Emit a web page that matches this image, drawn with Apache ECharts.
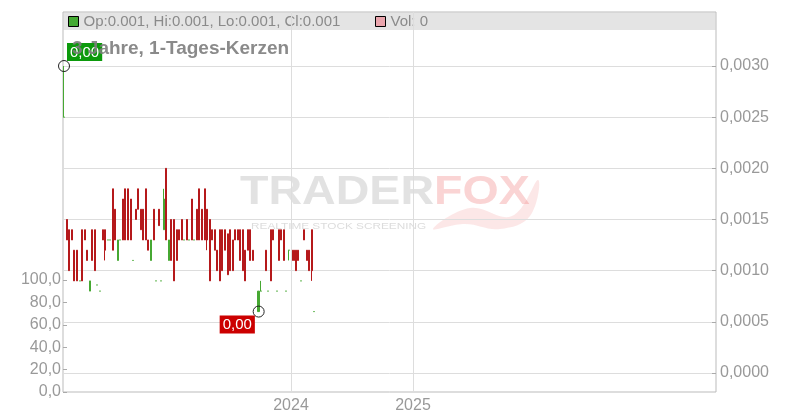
<!DOCTYPE html>
<html>
<head>
<meta charset="utf-8">
<script src="https://cdn.jsdelivr.net/npm/echarts@6/dist/echarts.min.js"></script>
<style>html,body{margin:0;padding:0;background:#fff}#c{width:800px;height:420px}</style>
</head>
<body>
<div id="c"></div>
<script>
const dates = [
'2022-02-19','2022-02-28','2022-03-06','2022-03-15','2022-03-21','2022-03-30','2022-04-08','2022-04-14','2022-04-23','2022-04-29',
'2022-05-08','2022-05-14','2022-05-23','2022-05-29','2022-06-07','2022-06-16','2022-06-22','2022-07-01','2022-07-07','2022-07-16',
'2022-07-22','2022-07-31','2022-08-06','2022-08-15','2022-08-21','2022-08-30','2022-09-08','2022-09-14','2022-09-23','2022-09-29',
'2022-10-08','2022-10-14','2022-10-23','2022-10-29','2022-11-07','2022-11-16','2022-11-22','2022-12-01','2022-12-07','2022-12-16',
'2022-12-22','2022-12-31','2023-01-06','2023-01-15','2023-01-24','2023-01-30','2023-02-08','2023-02-14','2023-02-23','2023-03-01',
'2023-03-10','2023-03-16','2023-03-25','2023-03-31','2023-04-09','2023-04-18','2023-04-24','2023-05-03','2023-05-09','2023-05-18',
'2023-05-24','2023-06-02','2023-06-08','2023-06-17','2023-06-26','2023-07-02','2023-07-11','2023-07-17','2023-07-26','2023-08-01',
'2023-08-10','2023-08-16','2023-08-25','2023-08-31','2023-09-09','2023-09-26','2023-10-03','2023-10-18','2023-10-24','2023-11-02',
'2023-11-08','2023-11-20','2023-11-26','2023-12-02','2023-12-11','2023-12-17','2023-12-26','2024-01-04','2024-01-10','2024-01-16',
'2024-01-22','2024-01-31','2024-02-09','2024-02-18','2024-02-24','2024-03-04','2024-03-10'
];
const opens = [
.0025,.0015,.0014,.0014,.0012,.0012,.0009,.0014,.0014,.0012,
.0008,.0014,.0014,.00086,.0008,.0014,.0014,.0013,.0013,.0018,
.0016,.0011,.0013,.0017,.0018,.0018,.0017,.0011,.0016,.0018,
.0016,.0016,.0018,.0013,.0011,.0016,.0009,.0016,.0009,.0014,
.0020,.0011,.0015,.0015,.0014,.0014,.0015,.0013,.0015,.0013,
.0017,.0013,.0016,.0018,.0016,.0018,.0016,.0015,.0014,.0014,
.0012,.0014,.0014,.0014,.00136,.0014,.0013,.0014,.0014,.0014,
.0014,.0012,.0014,.0014,.0012,.0006,.0008,.0012,.0008,.0014,
.0014,.0008,.0014,.0014,.0014,.0008,.0012,.0012,.0012,.0012,
.0012,.0009,.0014,.0012,.0012,.0014,.0006
];
const closes = [
.0025,.0013,.0010,.0013,.0009,.0009,.0009,.0009,.0013,.0011,
.0009,.0011,.0010,.00086,.0008,.0013,.0012,.0013,.0013,.0012,
.0013,.0013,.0013,.0013,.0013,.0013,.0013,.0011,.0015,.0016,
.0014,.0013,.0013,.0012,.0013,.0013,.0009,.00144,.0009,.0017,
.0013,.0013,.0011,.0009,.0011,.0013,.0013,.0013,.0013,.0013,
.0013,.0013,.0013,.0013,.0013,.0013,.0013,.0009,.0013,.0012,
.0010,.0009,.0010,.0012,.00096,.0010,.0010,.0013,.0013,.0011,
.0010,.0009,.0012,.0011,.0011,.0008,.0008,.0010,.0008,.0009,
.0013,.0008,.0011,.0013,.0011,.0008,.0012,.0011,.0011,.0010,
.0011,.0009,.0013,.0011,.0010,.0010,.0006
];
const lows = [
.0025,.0013,.0010,.0013,.0009,.0009,.0009,.0009,.0013,.0011,
.0008,.0011,.0010,.00086,.0008,.0013,.0011,.0013,.0013,.0012,
.0013,.0011,.0013,.0013,.0013,.0013,.0013,.0011,.0015,.0016,
.0014,.0013,.0013,.0012,.0011,.0013,.0009,.00144,.0009,.0014,
.0013,.0011,.0011,.0009,.0011,.0013,.0013,.0013,.0013,.0013,
.0013,.0013,.0013,.0013,.0013,.0013,.0012,.0009,.0013,.0012,
.0010,.0009,.0010,.0012,.00096,.0010,.0010,.0013,.0013,.0011,
.0010,.0009,.0012,.0011,.0011,.0006,.0008,.0010,.0008,.0009,
.0013,.0008,.0011,.0013,.0011,.0008,.0011,.0011,.0011,.0010,
.0011,.0009,.0013,.0011,.0010,.0009,.0006
];
const highs = [
.0030,.0015,.0014,.0014,.0012,.0012,.0009,.0014,.0014,.0012,
.0009,.0014,.0014,.00086,.0008,.0014,.0014,.0013,.0013,.0018,
.0016,.0013,.0013,.0017,.0018,.0018,.0017,.0011,.0016,.0018,
.0016,.0016,.0018,.0013,.0013,.0016,.0009,.0016,.0009,.0018,
.0020,.0013,.0015,.0015,.0014,.0014,.0015,.0013,.0015,.0013,
.0017,.0013,.0016,.0018,.0016,.0018,.0016,.0015,.0014,.0014,
.0012,.0014,.0014,.0014,.00136,.0014,.0013,.0014,.0014,.0014,
.0014,.0012,.0014,.0014,.0012,.0008,.0009,.0012,.0008,.0014,
.0014,.0008,.0014,.0014,.0014,.0008,.0012,.0012,.0012,.0012,
.0012,.0009,.0014,.0012,.0012,.0014,.0006
];
const volumes = [
0,0,0,0,0,0,0,0,0,0, 0,0,0,0,0,0,0,0,0,0, 0,0,0,0,0,0,0,0,0,0,
0,0,0,0,0,0,0,0,0,0, 0,0,0,0,0,0,0,0,0,0, 0,0,0,0,0,0,0,0,0,0,
0,0,0,0,0,0,0,0,0,0, 0,0,0,0,0,0,0,0,0,0, 0,0,0,0,0,0,0,0,0,0,
0,0,0,0,0,0,0
];
const titleText = '3 Jahre, 1-Tages-Kerzen';
const xMin = '2022-02-16';
const xMax = '2027-06-29';
const yearLines = ['2024-01-01', '2025-01-01'];
const yearLabels = [2024, 2025];
const priceTicks = [0, 0.0005, 0.001, 0.0015, 0.002, 0.0025, 0.003];
const priceMin = -0.000186, priceMax = 0.003528;
const volMin = 0, volMax = 100, volStep = 20;

const FONT = 'Liberation Sans, Arial, sans-serif';
const UP = '#46a832', DOWN = '#b5191b';
const last = dates.length - 1;
const fmt3 = v => v.toFixed(3);
const candleData = dates.map((d, i) => [d, opens[i], closes[i], lows[i], highs[i]]);
const volData = dates.map((d, i) => [d, volumes[i]]);

const chart = echarts.init(document.getElementById('c'), null, {renderer: 'canvas'});
const option = {
  animation: false,
  textStyle: {fontFamily: FONT},
  title: {
    text: titleText, left: 72, top: 39, padding: 0, z: 10,
    textStyle: {fontSize: 19, fontWeight: 'bold', color: 'rgba(125,125,125,0.9)', fontFamily: FONT}
  },
  legend: [
    {
      left: 68, top: 14, padding: 0, itemWidth: 10, itemHeight: 10, selectedMode: false,
      data: [{name: 'ohlc', icon: 'rect', itemStyle: {color: '#44aa33', borderColor: '#000', borderWidth: 1}}],
      formatter: () => 'Op:' + fmt3(opens[last]) + ', Hi:' + fmt3(highs[last]) + ', Lo:' + fmt3(lows[last]) + ', Cl:' + fmt3(closes[last]),
      textStyle: {fontSize: 15, color: '#8a8a8a', fontFamily: FONT}
    },
    {
      left: 375, top: 14, padding: 0, itemWidth: 10, itemHeight: 10, selectedMode: false,
      data: [{name: 'vol', icon: 'rect', itemStyle: {color: '#eaa5ad', borderColor: '#000', borderWidth: 1}}],
      formatter: () => 'Vol: ' + volumes[last],
      textStyle: {fontSize: 15, color: '#8a8a8a', fontFamily: FONT}
    }
  ],
  grid: [
    {left: 63, right: 84, top: 12, bottom: 28, show: true, borderColor: '#bbb', borderWidth: 1, backgroundColor: 'rgba(0,0,0,0)'},
    {left: 63, right: 84, top: 280, bottom: 28, show: false}
  ],
  xAxis: [
    {
      type: 'time', gridIndex: 0, min: xMin, max: xMax,
      axisLine: {show: false}, axisTick: {show: false}, splitLine: {show: false},
      axisLabel: {
        fontSize: 16, color: '#999', margin: 6, fontFamily: FONT, hideOverlap: false,
        formatter: (v) => {
          const d = new Date(v);
          const y = d.getFullYear();
          return (d.getMonth() === 0 && d.getDate() === 1 && yearLabels.indexOf(y) >= 0) ? String(y) : '';
        }
      }
    },
    {type: 'time', gridIndex: 1, min: xMin, max: xMax, show: false}
  ],
  yAxis: [
    {
      type: 'value', gridIndex: 0, position: 'right', min: priceMin, max: priceMax,
      axisLine: {show: false},
      axisTick: {show: true, inside: true, length: 4, lineStyle: {color: '#aaa'}, customValues: priceTicks},
      splitLine: {show: true, lineStyle: {color: '#ddd', width: 1}},
      axisLabel: {
        fontSize: 16, color: '#999', margin: 4, fontFamily: FONT, customValues: priceTicks,
        formatter: v => v.toFixed(4).replace('.', ',')
      }
    },
    {
      type: 'value', gridIndex: 1, position: 'left', min: volMin, max: volMax, interval: volStep,
      axisLine: {show: false},
      axisTick: {show: true, inside: true, length: 4, lineStyle: {color: '#aaa'}},
      splitLine: {show: false},
      axisLabel: {
        fontSize: 16, color: '#999', margin: 2, fontFamily: FONT,
        formatter: v => v.toFixed(1).replace('.', ',')
      }
    }
  ],
  series: [
    {
      name: 'ohlc', type: 'candlestick', xAxisIndex: 0, yAxisIndex: 0,
      barWidth: 2,
      itemStyle: {color: UP, color0: DOWN, borderColor: UP, borderColor0: DOWN, borderColorDoji: UP, borderWidth: 1},
      data: candleData,
      markLine: {
        silent: true, symbol: 'none', animation: false,
        label: {show: false},
        lineStyle: {color: '#ddd', type: 'solid', width: 1},
        data: yearLines.map(d => ({xAxis: d}))
      },
      markPoint: {
        silent: true, animation: false,
        symbol: 'circle', symbolSize: 11,
        itemStyle: {color: 'rgba(0,0,0,0)', borderColor: '#222', borderWidth: 1},
        label: {
          show: true, color: '#fff', fontSize: 15, fontFamily: FONT, padding: [2, 3, 1, 3],
          formatter: p => p.value.toFixed(2).replace('.', ',')
        },
        data: [
          {type: 'max', valueDim: 'highest', label: {position: [9, -17], backgroundColor: '#0c9a0c'}},
          {type: 'min', valueDim: 'lowest', label: {position: [-33, 10], backgroundColor: '#cc0000'}}
        ]
      }
    },
    {
      name: 'vol', type: 'bar', xAxisIndex: 1, yAxisIndex: 1, barWidth: 2,
      itemStyle: {color: '#eaa5ad'}, data: volData
    }
  ],
  graphic: [
    {type: 'rect', z: -5, shape: {x: 63.5, y: 12.5, width: 652, height: 17.5}, style: {fill: '#e4e4e4'}, silent: true},
    {type: 'text', z: -4, x: 240, y: 193, scaleX: 1.136, silent: true,
      style: {text: 'TRADER', font: 'bold 41px ' + FONT, fill: 'rgba(185,185,185,0.42)', verticalAlign: 'middle', align: 'left'}},
    {type: 'text', z: -4, x: 434, y: 193, scaleX: 1.136, silent: true,
      style: {text: 'FOX', font: 'bold 41px ' + FONT, fill: 'rgba(240,120,120,0.32)', verticalAlign: 'middle', align: 'left'}},
    {type: 'text', z: -4, x: 251, y: 227, scaleX: 1.31, silent: true,
      style: {text: 'REALTIME STOCK SCREENING', font: '9px ' + FONT, fill: 'rgba(185,185,185,0.5)', verticalAlign: 'middle', align: 'left'}},
    {type: 'polygon', z: -4, silent: true,
      shape: {smooth: 0.4, points: [[433, 229], [470, 208], [512, 216], [538, 180], [530, 216], [500, 229], [465, 224]]},
      style: {fill: 'rgba(240,120,120,0.18)'}}
  ]
};
chart.setOption(option);
</script>
</body>
</html>
